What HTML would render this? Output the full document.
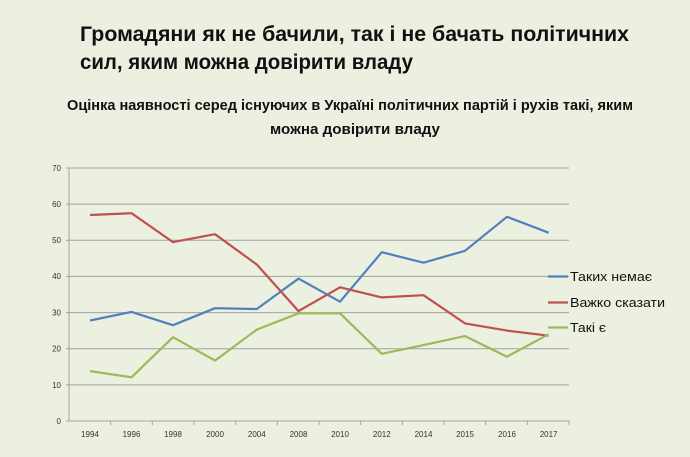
<!DOCTYPE html>
<html><head><meta charset="utf-8"><style>
html,body{margin:0;padding:0;background:#ebf0e0;}
svg{display:block}
</style></head><body>
<svg width="690" height="457" viewBox="0 0 690 457" xmlns="http://www.w3.org/2000/svg" font-family="Liberation Sans, sans-serif">
<rect width="690" height="457" fill="#ebf0e0"/>
<g font-weight="bold" fill="#111">
<text x="80" y="41" font-size="21" textLength="549" lengthAdjust="spacingAndGlyphs">Громадяни як не бачили, так і не бачать політичних</text>
<text x="80" y="69" font-size="21" textLength="333" lengthAdjust="spacingAndGlyphs">сил, яким можна довірити владу</text>
<text x="67" y="110" font-size="14.5" textLength="566" lengthAdjust="spacingAndGlyphs">Оцінка наявності серед існуючих в Україні політичних партій і рухів такі, яким</text>
<text x="270" y="134" font-size="14.5" textLength="170" lengthAdjust="spacingAndGlyphs">можна довірити владу</text>
</g>
<g stroke="#a0a4a0" stroke-width="1">
<line x1="69" y1="168" x2="569" y2="168"/>
<line x1="69" y1="204.1" x2="569" y2="204.1"/>
<line x1="69" y1="240.3" x2="569" y2="240.3"/>
<line x1="69" y1="276.4" x2="569" y2="276.4"/>
<line x1="69" y1="312.6" x2="569" y2="312.6"/>
<line x1="69" y1="348.7" x2="569" y2="348.7"/>
<line x1="69" y1="384.9" x2="569" y2="384.9"/>
<line x1="69" y1="421" x2="569" y2="421"/>
<line x1="69" y1="168" x2="69" y2="421"/>
<line x1="66" y1="168" x2="69" y2="168"/><line x1="66" y1="204.1" x2="69" y2="204.1"/><line x1="66" y1="240.3" x2="69" y2="240.3"/><line x1="66" y1="276.4" x2="69" y2="276.4"/><line x1="66" y1="312.6" x2="69" y2="312.6"/><line x1="66" y1="348.7" x2="69" y2="348.7"/><line x1="66" y1="384.9" x2="69" y2="384.9"/><line x1="66" y1="421" x2="69" y2="421"/>
<line x1="110.7" y1="421" x2="110.7" y2="425"/><line x1="152.3" y1="421" x2="152.3" y2="425"/><line x1="194" y1="421" x2="194" y2="425"/><line x1="235.7" y1="421" x2="235.7" y2="425"/><line x1="277.3" y1="421" x2="277.3" y2="425"/><line x1="319" y1="421" x2="319" y2="425"/><line x1="360.7" y1="421" x2="360.7" y2="425"/><line x1="402.3" y1="421" x2="402.3" y2="425"/><line x1="444" y1="421" x2="444" y2="425"/><line x1="485.7" y1="421" x2="485.7" y2="425"/><line x1="527.3" y1="421" x2="527.3" y2="425"/><line x1="569" y1="421" x2="569" y2="425"/>
</g>
<g font-size="8" fill="#333" text-anchor="end">
<text x="61" y="171">70</text><text x="61" y="207">60</text><text x="61" y="243">50</text><text x="61" y="279">40</text><text x="61" y="315.5">30</text><text x="61" y="351.5">20</text><text x="61" y="388">10</text><text x="61" y="424">0</text>
</g>
<g font-size="8" fill="#333" text-anchor="middle">
<text x="90" y="437">1994</text><text x="131.5" y="437">1996</text><text x="173" y="437">1998</text><text x="215" y="437">2000</text><text x="256.8" y="437">2004</text><text x="298.5" y="437">2008</text><text x="340" y="437">2010</text><text x="381.8" y="437">2012</text><text x="423.5" y="437">2014</text><text x="465" y="437">2015</text><text x="507" y="437">2016</text><text x="548.6" y="437">2017</text>
</g>
<g fill="none" stroke-width="2.2" stroke-linejoin="round">
<polyline stroke="#4f81bd" points="90,320.5 131.5,311.9 173,325.2 215,308.2 256.8,309 298.5,278.6 340,301.7 381.8,252.2 423.5,262.7 465,250.8 507,216.8 548.6,232.7"/>
<polyline stroke="#c0504d" points="90,215 131.5,213.2 173,242.1 215,234.2 256.8,264.5 298.5,311.1 340,287.3 381.8,297.4 423.5,295.2 465,323.4 507,330.6 548.6,335.7"/>
<polyline stroke="#9bbb59" points="90,371.1 131.5,377.3 173,337.2 215,360.6 256.8,329.6 298.5,313.3 340,313.3 381.8,353.8 423.5,345.1 465,336.1 507,356.7 548.6,334.3"/>
</g>
<g stroke-width="2.2">
<line x1="548" y1="276.5" x2="568" y2="276.5" stroke="#4f81bd"/>
<line x1="548" y1="302.5" x2="568" y2="302.5" stroke="#c0504d"/>
<line x1="548" y1="327.5" x2="568" y2="327.5" stroke="#9bbb59"/>
</g>
<g font-size="13" fill="#111">
<text x="570" y="281" textLength="82" lengthAdjust="spacingAndGlyphs">Таких немає</text>
<text x="570" y="307" textLength="95" lengthAdjust="spacingAndGlyphs">Важко сказати</text>
<text x="570" y="332" textLength="36" lengthAdjust="spacingAndGlyphs">Такі є</text>
</g>
</svg>
</body></html>
